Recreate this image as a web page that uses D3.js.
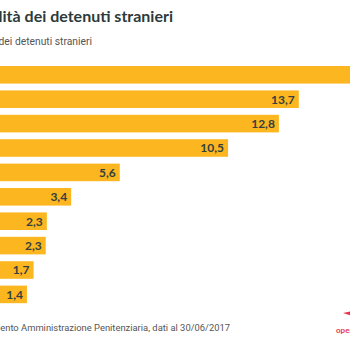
<!DOCTYPE html>
<html>
<head>
<meta charset="utf-8">
<script src="https://cdn.jsdelivr.net/npm/d3@7"></script>
<style>
  body { margin: 0; background: #fff; }
  svg { display: block; }
</style>
</head>
<body>
<svg id="chart"></svg>
<script>
// Top 10 nationalities of foreign inmates (% of foreign inmates)
const countries = ["Marocco", "Albania", "Romania", "Tunisia", "Nigeria", "Egitto", "Algeria", "Senegal", "Gambia", "Pakistan"];
const shares = [18.7, 13.7, 12.8, 10.5, 5.6, 3.4, 2.3, 2.25, 1.7, 1.4];
const shareLabels = ["18,7", "13,7", "12,8", "10,5", "5,6", "3,4", "2,3", "2,3", "1,7", "1,4"];

const width = 350, height = 350;

const svg = d3.select("#chart")
    .attr("width", width)
    .attr("height", height);

// the chart is cropped on the left, so zero sits just outside the frame
const x = d3.scaleLinear()
    .domain([0, 20])
    .range([-4, -4 + 20 * 22.1]);

const y = d3.scaleBand()
    .domain(countries)
    .range([62.6, 306.6])
    .paddingInner(0.28)
    .paddingOuter(0.14);

const data = countries.map((c, i) => ({country: c, value: shares[i], label: shareLabels[i]}));

svg.append("text")
    .attr("x", 173)
    .attr("y", 22)
    .attr("text-anchor", "end")
    .style("font-family", "Lato, 'Open Sans', sans-serif")
    .style("font-size", "16px")
    .style("font-weight", "bold")
    .attr("fill", "#2c3a3b")
    .text("Le nazionalità dei detenuti stranieri");

svg.append("text")
    .attr("x", 92)
    .attr("y", 45)
    .attr("text-anchor", "end")
    .style("font-family", "Roboto, sans-serif")
    .style("font-size", "10.3px")
    .attr("fill", "#555")
    .text("Percentuale sul totale dei detenuti stranieri");

svg.append("g")
    .attr("fill", "#fcb61f")
    .selectAll("rect").data(data).enter().append("rect")
    .attr("x", x(0))
    .attr("y", d => y(d.country))
    .attr("width", d => x(d.value) - x(0))
    .attr("height", y.bandwidth());

svg.append("g")
    .selectAll("text").data(data).enter().append("text")
    .attr("x", d => x(d.value) - 4)
    .attr("y", d => y(d.country) + y.bandwidth() / 2)
    .attr("dy", "0.36em")
    .attr("text-anchor", "end")
    .style("font-family", "Lato, 'Open Sans', sans-serif")
    .style("font-size", "12px")
    .style("font-weight", "bold")
    .attr("fill", "#33403f")
    .text(d => d.label);

svg.append("text")
    .attr("x", 230)
    .attr("y", 331)
    .attr("text-anchor", "end")
    .style("font-family", "Roboto, sans-serif")
    .style("font-size", "9.4px")
    .attr("fill", "#555")
    .text("Fonte: Dipartimento Amministrazione Penitenziaria, dati al 30/06/2017");

// openpolis mark, cut by the right edge
svg.append("path")
    .attr("d", "M343,313 L352,311 L352,316 Z")
    .attr("fill", "#e6334b");

svg.append("text")
    .attr("x", 336)
    .attr("y", 333)
    .style("font-family", "Lato, sans-serif")
    .style("font-size", "8px")
    .style("font-weight", "bold")
    .attr("fill", "#e6334b")
    .text("openpolis");
</script>
</body>
</html>
